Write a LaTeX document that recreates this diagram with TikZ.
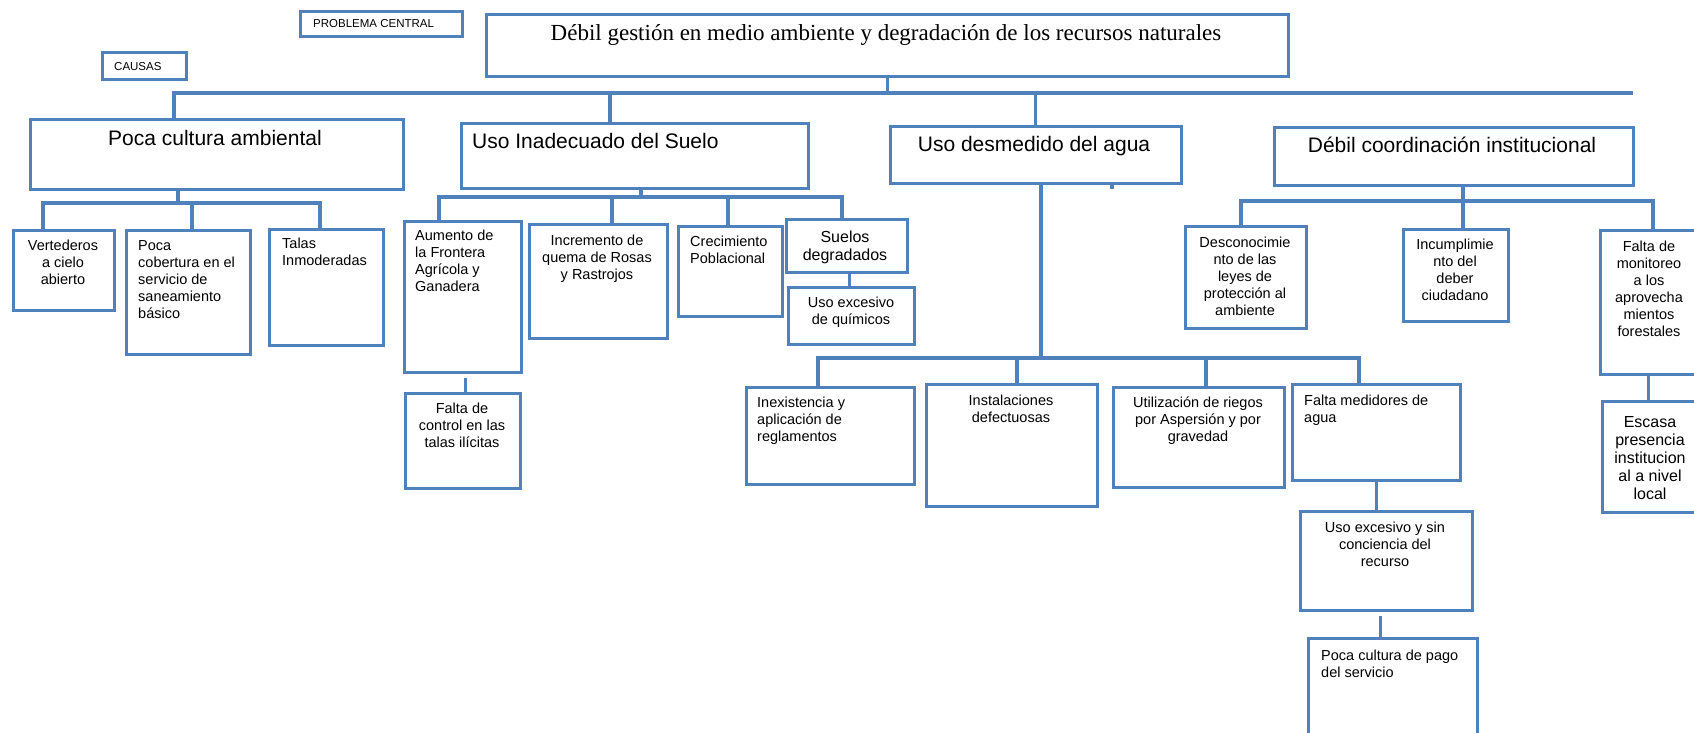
\documentclass[tikz,border=0pt]{standalone}
\usepackage{fontspec}
\setmainfont{Liberation Sans}
\newfontfamily\ttlfont{Liberation Serif}
\usetikzlibrary{positioning, calc}

\begin{document}
\begin{tikzpicture}[x=1pt, y=-1pt,
  box/.style={draw=myblue, line width=2.6pt, fill=white, anchor=north west, inner sep=0pt},
  link/.style={draw=myblue, line width=3.3pt},
  txt/.style={inner sep=0pt, align=center, font=\fontsize{14.5}{17}\selectfont},
  bigtxt/.style={inner sep=0pt, align=center, font=\fontsize{16}{18}\selectfont},
  head/.style={inner sep=0pt, font=\fontsize{21}{25}\selectfont},
  tag/.style={inner sep=0pt, font=\fontsize{11.5}{13}\selectfont}]
% Define the custom color
  \definecolor{myblue}{RGB}{79,129,189}

  \useasboundingbox (0,0) rectangle (1694,733);
  \clip (0,0) rectangle (1694,733);

  % problema central y causas
  \node[box, minimum width=162pt, minimum height=25pt] (prob) at (299,10) {};
  \node[tag, anchor=base west] (prob-t) at (313,28) {PROBLEMA CENTRAL};
  \node[box, minimum width=84pt, minimum height=27pt] (causas) at (101,51) {};
  \node[tag, anchor=base west] (causas-t) at (114,71) {CAUSAS};
  \node[box, minimum width=802pt, minimum height=62pt] (central) at (485,13) {};
  \node[inner sep=0pt, anchor=base, font=\ttlfont\fontsize{23}{27}\selectfont] (central-t) at (886,41)
    {Débil gestión en medio ambiente y degradación de los recursos naturales};

  % primer nivel
  \node[box, minimum width=373pt, minimum height=70pt] (pcamb) at (29,118) {};
  \node[head, anchor=base] (pcamb-t) at (215,146) {Poca cultura ambiental};
  \node[box, minimum width=347pt, minimum height=65pt] (uinad) at (460,122) {};
  \node[head, anchor=base west] (uinad-t) at (472,148) {Uso Inadecuado del Suelo};
  \node[box, minimum width=291pt, minimum height=57pt] (udesm) at (889,125) {};
  \node[head, anchor=base] (udesm-t) at (1034,151) {Uso desmedido del agua};
  \node[box, minimum width=359pt, minimum height=58pt] (dcoord) at (1273,126) {};
  \node[head, anchor=base] (dcoord-t) at (1452,153) {Débil coordinación institucional};

  % Poca cultura ambiental
  \node[box, minimum width=101pt, minimum height=80pt] (vert) at (12,229) {};
  \node[txt, anchor=north] (vert-t) at (63,240) {Vertederos\\a cielo\\abierto};
  \node[box, minimum width=124pt, minimum height=124pt] (pcob) at (125,229) {};
  \node[txt, anchor=north west, align=left] (pcob-t) at (138,240) {Poca\\cobertura en el\\servicio de\\saneamiento\\básico};
  \node[box, minimum width=114pt, minimum height=116pt] (talas) at (268,228) {};
  \node[txt, anchor=north west, align=left] (talas-t) at (282,238) {Talas\\Inmoderadas};

  % Uso Inadecuado del Suelo
  \node[box, minimum width=117pt, minimum height=151pt] (aum) at (403,220) {};
  \node[txt, anchor=north west, align=left] (aum-t) at (415,230) {Aumento de\\la Frontera\\Agrícola y\\Ganadera};
  \node[box, minimum width=138pt, minimum height=114pt] (incr) at (528,223) {};
  \node[txt, anchor=north] (incr-t) at (597,235) {Incremento de\\quema de Rosas\\y Rastrojos};
  \node[box, minimum width=104pt, minimum height=90pt] (crec) at (677,225) {};
  \node[txt, anchor=north west, align=left] (crec-t) at (690,236) {Crecimiento\\Poblacional};
  \node[box, minimum width=121pt, minimum height=53pt] (suel) at (785,218) {};
  \node[bigtxt, anchor=north] (suel-t) at (845,231) {Suelos\\degradados};
  \node[box, minimum width=126pt, minimum height=57pt] (uexq) at (787,286) {};
  \node[txt, anchor=north] (uexq-t) at (851,297) {Uso excesivo\\de químicos};
  \node[box, minimum width=115pt, minimum height=95pt] (fcont) at (404,392) {};
  \node[txt, anchor=north] (fcont-t) at (462,403) {Falta de\\control en las\\talas ilícitas};

  % Uso desmedido del agua
  \node[box, minimum width=168pt, minimum height=97pt] (inex) at (745,386) {};
  \node[txt, anchor=north west, align=left] (inex-t) at (757,397) {Inexistencia y\\aplicación de\\reglamentos};
  \node[box, minimum width=171pt, minimum height=122pt] (inst) at (925,383) {};
  \node[txt, anchor=north] (inst-t) at (1011,395) {Instalaciones\\defectuosas};
  \node[box, minimum width=171pt, minimum height=100pt] (utili) at (1112,386) {};
  \node[txt, anchor=north] (utili-t) at (1198,397) {Utilización de riegos\\por Aspersión y por\\gravedad};
  \node[box, minimum width=168pt, minimum height=96pt] (fmed) at (1291,383) {};
  \node[txt, anchor=north west, align=left] (fmed-t) at (1304,395) {Falta medidores de\\agua};
  \node[box, minimum width=172pt, minimum height=99pt] (uexr) at (1299,510) {};
  \node[txt, anchor=north] (uexr-t) at (1385,522) {Uso excesivo y sin\\conciencia del\\recurso};
  \node[box, minimum width=169pt, minimum height=120pt] (pcpago) at (1307,637) {};
  \node[txt, anchor=north west, align=left] (pcpago-t) at (1321,650) {Poca cultura de pago\\del servicio};

  % Débil coordinación institucional
  \node[box, minimum width=121pt, minimum height=102pt] (desc) at (1184,225) {};
  \node[txt, anchor=north] (desc-t) at (1245,237) {Desconocimie\\nto de las\\leyes de\\protección al\\ambiente};
  \node[box, minimum width=105pt, minimum height=92pt] (incu) at (1402,228) {};
  \node[txt, anchor=north] (incu-t) at (1455,239) {Incumplimie\\nto del\\deber\\ciudadano};
  \node[box, minimum width=101pt, minimum height=144pt] (fmon) at (1599,229) {};
  \node[txt, anchor=north] (fmon-t) at (1649,241) {Falta de\\monitoreo\\a los\\aprovecha\\mientos\\forestales};
  \node[box, minimum width=99pt, minimum height=111pt] (escasa) at (1601,400) {};
  \node[bigtxt, anchor=north] (escasa-t) at (1650,416) {Escasa\\presencia\\institucion\\al a nivel\\local};

  % conectores
  \coordinate (busL) at (174,93);
  \coordinate (busR) at (1633,93);
  \coordinate (bus-ui) at (610,93);
  \draw[link] (busL |- pcamb.north) -- (busL) -- (busR);
  \draw[link] (central.south) -- (central.south |- busL);
  \draw[link] (bus-ui) -- (bus-ui |- uinad.north);
  \draw[link] (udesm.north |- busL) -- (udesm.north);
  \coordinate (stub) at (1112,189);
  \draw[link] (stub |- udesm.south) -- (stub);

  \coordinate (pc-l) at (43,203);
  \coordinate (pc-m) at (192,203);
  \coordinate (pc-r) at (320,203);
  \coordinate (pc-j) at (178,203);
  \draw[link] (pc-l |- vert.north) -- (pc-l) -- (pc-r) -- (pc-r |- talas.north);
  \draw[link] (pc-m) -- (pc-m |- pcob.north);
  \draw[link] (pc-j |- pcamb.south) -- (pc-j);

  \coordinate (ui-l) at (439,197);
  \coordinate (ui-a) at (612,197);
  \coordinate (ui-b) at (728,197);
  \coordinate (ui-r) at (842,197);
  \coordinate (ui-j) at (641,197);
  \draw[link] (ui-l |- aum.north) -- (ui-l) -- (ui-r) -- (ui-r |- suel.north);
  \draw[link] (ui-j |- uinad.south) -- (ui-j);
  \draw[link] (ui-a) -- (ui-a |- incr.north);
  \draw[link] (ui-b) -- (ui-b |- crec.north);
  \draw[link] ([xshift=3pt]suel.south) -- ([xshift=3pt]suel.south |- uexq.north);
  \draw[link, shorten <=4pt] ([xshift=3pt]aum.south) -- ([xshift=3pt]fcont.north);

  \coordinate (ud-l) at (818,358);
  \coordinate (ud-a) at (1017,358);
  \coordinate (ud-j) at (1041,358);
  \coordinate (ud-b) at (1206,358);
  \coordinate (ud-r) at (1359,358);
  \draw[link] (ud-l |- inex.north) -- (ud-l) -- (ud-r) -- (ud-r |- fmed.north);
  \draw[link] (ud-j |- udesm.south) -- (ud-j);
  \draw[link] (ud-a) -- (ud-a |- inst.north);
  \draw[link] (ud-b) -- (ud-b |- utili.north);
  \draw[link] (fmed.south) -- (fmed.south |- uexr.north);
  \draw[link, shorten <=4pt] ([xshift=-6pt]uexr.south) -- ([xshift=-6pt]uexr.south |- pcpago.north);

  \coordinate (dc-l) at (1241,201);
  \coordinate (dc-j) at (1463,201);
  \coordinate (dc-r) at (1653,201);
  \draw[link] (dc-l |- desc.north) -- (dc-l) -- (dc-r) -- (dc-r |- fmon.north);
  \draw[link] (dc-j |- dcoord.south) -- (dc-j) -- (dc-j |- incu.north);
  \draw[link] ([xshift=-2pt]fmon.south) -- ([xshift=-2pt]fmon.south |- escasa.north);

\end{tikzpicture}
\end{document}
